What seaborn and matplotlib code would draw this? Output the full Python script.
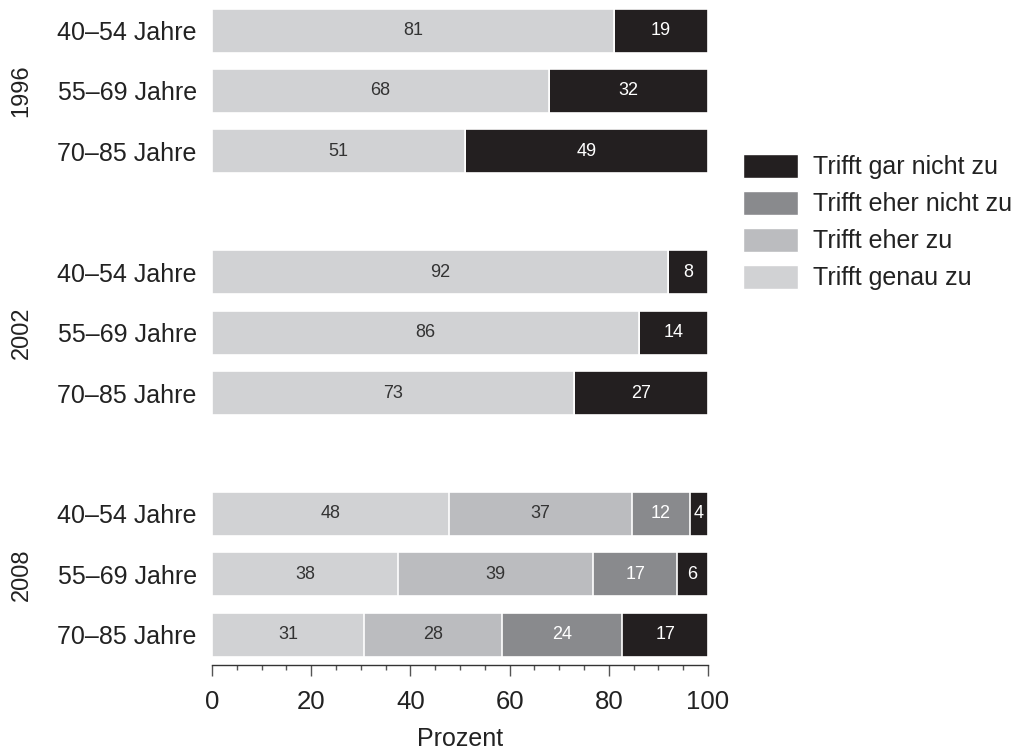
import matplotlib.pyplot as plt
import matplotlib.transforms as mtransforms
import numpy as np
import pandas as pd
import seaborn as sns
from matplotlib.patches import Patch
from matplotlib.ticker import MultipleLocator

# Daten
years = ["1996", "2002", "2008"]
ages = ["40–54 Jahre", "55–69 Jahre", "70–85 Jahre"]
categories = ["Trifft genau zu", "Trifft eher zu", "Trifft eher nicht zu", "Trifft gar nicht zu"]
genau_zu = [81, 68, 51, 92, 86, 73, 47.8, 37.6, 30.7]
eher_zu = [0, 0, 0, 0, 0, 0, 36.9, 39.2, 27.8]
eher_nicht_zu = [0, 0, 0, 0, 0, 0, 11.7, 17.0, 24.2]
gar_nicht_zu = [19, 32, 49, 8, 14, 27, 3.6, 6.2, 17.3]

colors = {
    "Trifft genau zu": "#d1d2d4",
    "Trifft eher zu": "#bbbcbf",
    "Trifft eher nicht zu": "#898a8d",
    "Trifft gar nicht zu": "#231f20",
}
text_colors = {
    "Trifft genau zu": "#333333",
    "Trifft eher zu": "#333333",
    "Trifft eher nicht zu": "white",
    "Trifft gar nicht zu": "white",
}

# Tabelle: Zeilenposition mit Lücke zwischen den Jahren
pos = [g * 4 + i for g in range(len(years)) for i in range(len(ages))]
df = pd.DataFrame(
    {
        "pos": pos,
        "Trifft genau zu": genau_zu,
        "Trifft eher zu": eher_zu,
        "Trifft eher nicht zu": eher_nicht_zu,
        "Trifft gar nicht zu": gar_nicht_zu,
    }
)
cum = df[categories].cumsum(axis=1)
left = cum - df[categories]

sns.set_theme(style="white")
plt.rcParams["font.family"] = ["Liberation Sans", "DejaVu Sans"]

fig = plt.figure(figsize=(10.24, 7.54), dpi=100)
ax = fig.add_axes([0.207, 0.118, 0.4844, 0.870])

# gestapelte Balken: von hinten (Summe) nach vorne
for cat in reversed(categories):
    sns.barplot(
        x=cum[cat],
        y=df["pos"],
        orient="h",
        native_scale=True,
        color=colors[cat],
        saturation=1,
        width=0.728,
        errorbar=None,
        edgecolor="white",
        linewidth=1.2,
        ax=ax,
    )

# Werte in den Segmenten
for cat in categories:
    for p, lo, v in zip(df["pos"], left[cat], df[cat]):
        if v > 0:
            ax.text(lo + v / 2, p, f"{v:.0f}", ha="center", va="center",
                    fontsize=13, color=text_colors[cat])

ax.set_xlim(0, 100)
ax.set_ylim(10.50, -0.356)
ax.set_yticks(pos, labels=ages * len(years))
ax.tick_params(axis="y", length=0, pad=11, labelsize=18, labelcolor="#222222")
ax.set_ylabel("")

ax.xaxis.set_major_locator(MultipleLocator(20))
ax.xaxis.set_minor_locator(MultipleLocator(5))
ax.tick_params(axis="x", which="major", direction="out", length=8, width=1,
               color="#555555", labelsize=18.5, labelcolor="#222222", pad=10, bottom=True)
ax.tick_params(axis="x", which="minor", direction="out", length=3.6, width=1,
               color="#555555", bottom=True)
ax.set_xlabel("Prozent", fontsize=18, color="#222222", labelpad=9)

for side in ["top", "right", "left"]:
    ax.spines[side].set_visible(False)
ax.spines["bottom"].set_color("#333333")
ax.spines["bottom"].set_linewidth(1)
ax.grid(False)

# Jahresbeschriftung
trans = mtransforms.blended_transform_factory(fig.transFigure, ax.transData)
for g, year in enumerate(years):
    ax.text(0.021, g * 4 + 1, year, transform=trans, rotation=90,
            ha="center", va="center", fontsize=17, color="#222222")

# Legende
handles = [Patch(facecolor=colors[c], edgecolor="white") for c in reversed(categories)]
fig.legend(
    handles,
    list(reversed(categories)),
    loc="upper left",
    bbox_to_anchor=(0.704, 0.826),
    frameon=False,
    fontsize=18,
    handlelength=2.2,
    handleheight=1.1,
    handletextpad=0.6,
    labelspacing=0.46,
    labelcolor="#222222",
)

fig.savefig("out.png", dpi=100)
plt.close()
